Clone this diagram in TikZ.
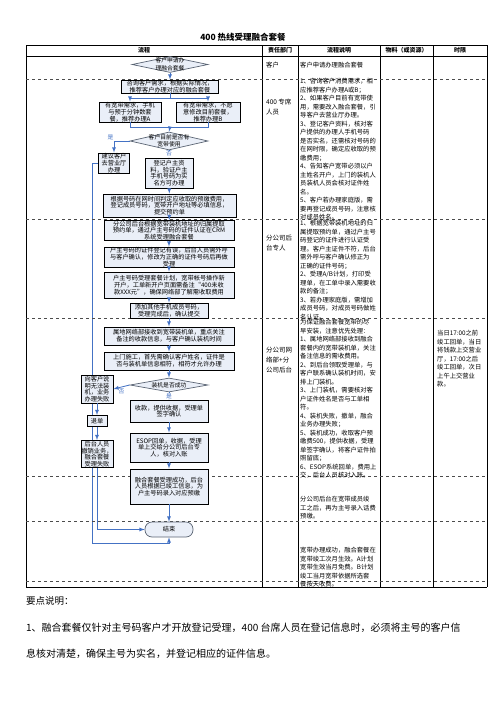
\documentclass[tikz,border=0pt]{standalone}
\usepackage{fontspec}
\setmainfont{Noto Sans CJK SC}
\usetikzlibrary{shapes.geometric, arrows, positioning, calc, backgrounds}
\definecolor{boxfill}{RGB}{234,239,248}
\definecolor{flowblue}{RGB}{68,114,196}
\definecolor{diagray}{RGB}{90,100,115}
\tikzstyle{arrow} = [flowblue, line width=0.8pt, ->, >=latex]
\tikzstyle{link}  = [flowblue, line width=0.8pt]
\tikzset{every node/.style={align=center}}

\begin{document}
\begin{tikzpicture}[x=1pt, y=-1pt,
    proc/.style={rectangle, draw=black, line width=0.9pt, fill=boxfill,
                 inner sep=0pt, font=\fontsize{6.2}{6.7}\selectfont},
    decide/.style={diamond, draw=diagray, line width=0.7pt, fill=boxfill, inner sep=0pt},
    dtext/.style={font=\fontsize{5.8}{7.5}\selectfont, align=center},
    stop/.style={rectangle, rounded corners=7pt, draw=diagray, line width=0.7pt,
                 fill=boxfill, font=\fontsize{6.2}{7}\selectfont},
    cell/.style={anchor=north west, align=left, inner sep=0pt, font=\fontsize{6.3}{8.5}\selectfont},
    duty/.style={anchor=north west, align=left, inner sep=0pt, font=\fontsize{6.5}{10}\selectfont},
    head/.style={inner sep=0pt, font=\bfseries\fontsize{6}{7}\selectfont},
    tag/.style={inner sep=0.3pt, font=\fontsize{5.8}{6}\selectfont}
]
  \useasboundingbox (0,0) rectangle (496,702);

  % --- title and table frame ---
  \node[font=\bfseries\fontsize{8.5}{10}\selectfont] (title) at (243,37) {400 热线受理融合套餐};
  \draw[line width=0.8pt] (26,45) -- (487,45) (26,56) -- (487,56) (26,587) -- (487,587);
  \foreach \x in {26,262,298,380,433,487}
    \draw[line width=0.8pt] (\x,45) -- (\x,587);
  \foreach \y in {79,219,318,476,521,581}
    \draw[dashed, gray!60!black, line width=0.5pt] (26,\y) -- (487,\y);
  \node[head] (hFlow) at (144,50.5) {流程};
  \node[head] (hDuty) at (280,50.5) {责任部门};
  \node[head] (hDesc) at (339,50.5) {流程说明};
  \node[head] (hRes)  at (406.5,50.5) {物料（或资源）};
  \node[head] (hTime) at (460,50.5) {时限};

  % --- responsible parties ---
  \node[duty] (dutyA) at (266,61.5) {客户};
  \node[duty] (dutyB) at (266,98.5) {400 专席\\人员};
  \node[duty] (dutyC) at (266,234.5) {分公司后\\台专人};
  \node[duty] (dutyD) at (266,346.5) {分公司网\\络部+分\\公司后台};

  % --- descriptions ---
  \node[cell] (descA) at (300,61.5) {客户申请办理融合套餐};
  \node[cell] (descB) at (300,78) {1、咨询客户消费需求，相\\应推荐客户办理A或B；\\2、如果客户目前有宽带使\\用，需要改入融合套餐，引\\导客户去营业厅办理。\\3、登记客户资料，核对客\\户提供的办理人手机号码\\是否实名，还需核对号码的\\在网时限，确定应收取的预\\缴费用；\\4、告知客户宽带必须以户\\主姓名开户，上门的装机人\\员装机人员会核对证件姓\\名。\\5、客户若办理家庭版，需\\要再登记成员号码，注意核\\对成员姓名。};
  \node[cell] (descC) at (300,220) {1、根据宽带装机地址的归\\属提取预约单，通过户主号\\码登记的证件进行认证受\\理。客户主证件不符，后台\\需外呼与客户确认修正为\\正确的证件号码；\\2、受理A/B计划，打印受\\理单，在工单中录入需要收\\款的备注；\\3、若办理家庭版，需增加\\成员号码，对成员号码做姓\\名认证。};
  \node[cell] (descD) at (300,319) {为保证融合套餐宽带的尽\\早安装，注意优先处理：\\1、属地网络部接收到融合\\套餐内的宽带装机单，关注\\备注信息的需收费用。\\2、到后台领取受理单，与\\客户联系确认装机时间，安\\排上门装机。\\3、上门装机，需要核对客\\户证件姓名是否与工单相\\符。\\4、装机失败，撤单，融合\\业务办理失败；\\5、装机成功，收取客户预\\缴费500，提供收据，受理\\单签字确认，将客户证件拍\\照留底；\\6、ESOP系统回单，费用上\\交，后台人员核对入账。};
  \node[cell] (descE) at (300,496) {分公司后台在宽带成员竣\\工之后，再为主号录入话费\\预缴。};
  \node[cell] (descF) at (300,547) {宽带办理成功，融合套餐在\\宽带竣工次月生效。A计划\\宽带生效当月免费。B计划\\竣工当月宽带依据所选套\\餐按天收费。};
  \node[cell] (timeD) at (437,330) {当日17:00之前\\竣工回单，当日\\将钱款上交营业\\厅，17:00之后\\竣工回单，次日\\上午上交营业\\款。};

  % --- 400 hotline steps ---
  \node[decide, minimum width=76pt, minimum height=16pt,
        label={[dtext]center:{客户申请办\\理融合套餐}}] (apply) at (170,64.5) {};
  \node[proc, minimum width=97pt, minimum height=13pt] (consult) at (170,86.5)
        {咨询客户需求，根据实际情况，\\推荐客户办理对应的融合套餐};
  \node[proc, minimum width=62pt, minimum height=20pt] (planA) at (130,112)
        {有宽带需求，手机\\与预于分钟数套\\餐，推荐办理A};
  \node[proc, minimum width=64pt, minimum height=20pt] (planB) at (208,112)
        {有宽带需求，不愿\\意修改目前套餐，\\推荐办理B};
  \coordinate (join) at (170,127);
  \node[decide, minimum width=78pt, minimum height=18pt,
        label={[dtext]center:{客户目前是否有\\宽带使用}}] (hasbb) at (169,141) {};
  \node[proc, minimum width=31pt, minimum height=20pt] (shop) at (114,163)
        {建议客户\\去营业厅\\办理};
  \node[proc, minimum width=48pt, minimum height=30pt] (record) at (169,173)
        {登记户主资\\料，验证户主\\手机号码为实\\名方可办理};
  \node[proc, minimum width=133pt, minimum height=23pt] (order) at (169.5,205.5)
        {根据号码在网时间判定应收取的预缴费用，\\登记成员号码，宽带开户地址等必填信息，\\提交预约单};

  % --- branch back office ---
  \node[proc, minimum width=130pt, minimum height=20pt] (crm) at (169,230.5)
        {分公司后台根据宽带装机地址的归属提取\\预约单，通过户主号码的证件认证在CRM\\系统受理融合套餐};
  \node[proc, minimum width=130pt, minimum height=20pt] (fixid) at (169,257)
        {户主号码的证件登记有误，后台人员需外呼\\与客户确认，修改为正确的证件号码后再做\\受理};
  \node[proc, minimum width=130pt, minimum height=26pt] (openacc) at (169,285)
        {户主号码受理套餐计划，宽带帐号操作新\\开户，工单新开户页面需备注“400未收\\款XXX元”，确保网络部了解需收取费用};
  \node[proc, minimum width=78pt, minimum height=15pt] (members) at (169,310.5)
        {添加其他手机成员号码，\\受理完成后，确认提交};

  % --- network dept + back office ---
  \node[proc, minimum width=130pt, minimum height=18pt] (receive) at (169,336)
        {属地网络部接收到宽带装机单，重点关注\\备注的收款信息，与客户确认装机时间};
  \node[proc, minimum width=130pt, minimum height=18pt] (visit) at (169,361)
        {上门施工，首先需确认客户姓名，证件是\\否与装机单信息相符，相符才允许办理};
  \node[decide, minimum width=78pt, minimum height=14pt,
        label={[dtext]center:装机是否成功}] (setup) at (169,385) {};
  \node[proc, minimum width=32pt, minimum height=28pt] (fail) at (97,389)
        {向客户说\\明无法装\\机，业务\\办理失败};
  \node[proc, minimum width=20pt, minimum height=11pt] (cancel) at (97,421) {退单};
  \node[proc, minimum width=32pt, minimum height=27pt] (revoke) at (97,454)
        {后台人员\\撤销业务，\\融合套餐\\受理失败};
  \node[proc, minimum width=78pt, minimum height=22pt] (collect) at (169,411)
        {收款，提供收据，受理单\\签字确认};
  \node[proc, minimum width=78pt, minimum height=29pt] (esop) at (169,447.5)
        {ESOP回单，收据，受理\\单上交给分公司后台专\\人，核对入账};
  \node[proc, minimum width=78pt, minimum height=35pt] (prepay) at (169,486.5)
        {融合套餐受理成功，后台\\人员根据已竣工信息，为\\户主号码录入对应预缴};
  \node[stop, minimum width=48pt, minimum height=15pt] (finish) at (169,529.5) {结束};
  \coordinate (loopend) at (169,543);

  % --- connectors ---
  \draw[arrow] (apply) -- (consult);
  \draw[arrow] (consult.south) -- ++(0,5) -| (planA.north);
  \draw[arrow] (consult.south) -- ++(0,5) -| (planB.north);
  \draw[link] (planA.south) |- (join);
  \draw[link] (planB.south) |- (join);
  \draw[arrow] (join) -- (hasbb.north);
  \draw[arrow] (hasbb.west) -| node[tag, pos=0.5, above left=0pt]{是} (shop.north);
  \draw[arrow] (hasbb) -- node[tag, fill=white]{否} (record);
  \draw[arrow] (record) -- (order);
  \draw[arrow] (order) -- (crm);
  \draw[arrow] (crm) -- (fixid);
  \draw[arrow] (fixid) -- (openacc);
  \draw[arrow] (openacc) -- (members);
  \draw[arrow] (members) -- (receive);
  \draw[arrow] (receive) -- (visit);
  \draw[arrow] (visit) -- (setup.north);
  \draw[arrow] (setup) -- node[tag, fill=white]{是} (collect);
  \draw[arrow] (setup.west) -- node[tag, below=1pt]{否} (fail.east);
  \draw[arrow] (fail) -- (cancel);
  \draw[arrow] (cancel) -- (revoke);
  \draw[arrow] (collect) -- (esop);
  \draw[arrow] (esop) -- (prepay);
  \draw[arrow] (prepay) -- (finish);
  \draw[arrow] (revoke.south) |- (finish.west);
  \begin{pgfonlayer}{background}
    \draw[arrow] (shop.west) -- ++(-6,0) |- (loopend) -- (finish.south);
  \end{pgfonlayer}

  % --- key points ---
  \node[anchor=west, inner sep=0pt, font=\fontsize{9.5}{12}\selectfont] (keyhead) at (26,601) {要点说明：};
  \node[anchor=west, inner sep=0pt, font=\fontsize{10}{12}\selectfont] (keyone) at (26,628)
        {1、融合套餐仅针对主号码客户才开放登记受理，400 台席人员在登记信息时，必须将主号的客户信};
  \node[anchor=west, inner sep=0pt, font=\fontsize{10}{12}\selectfont] (keytwo) at (26,654)
        {息核对清楚，确保主号为实名，并登记相应的证件信息。};
\end{tikzpicture}
\end{document}
